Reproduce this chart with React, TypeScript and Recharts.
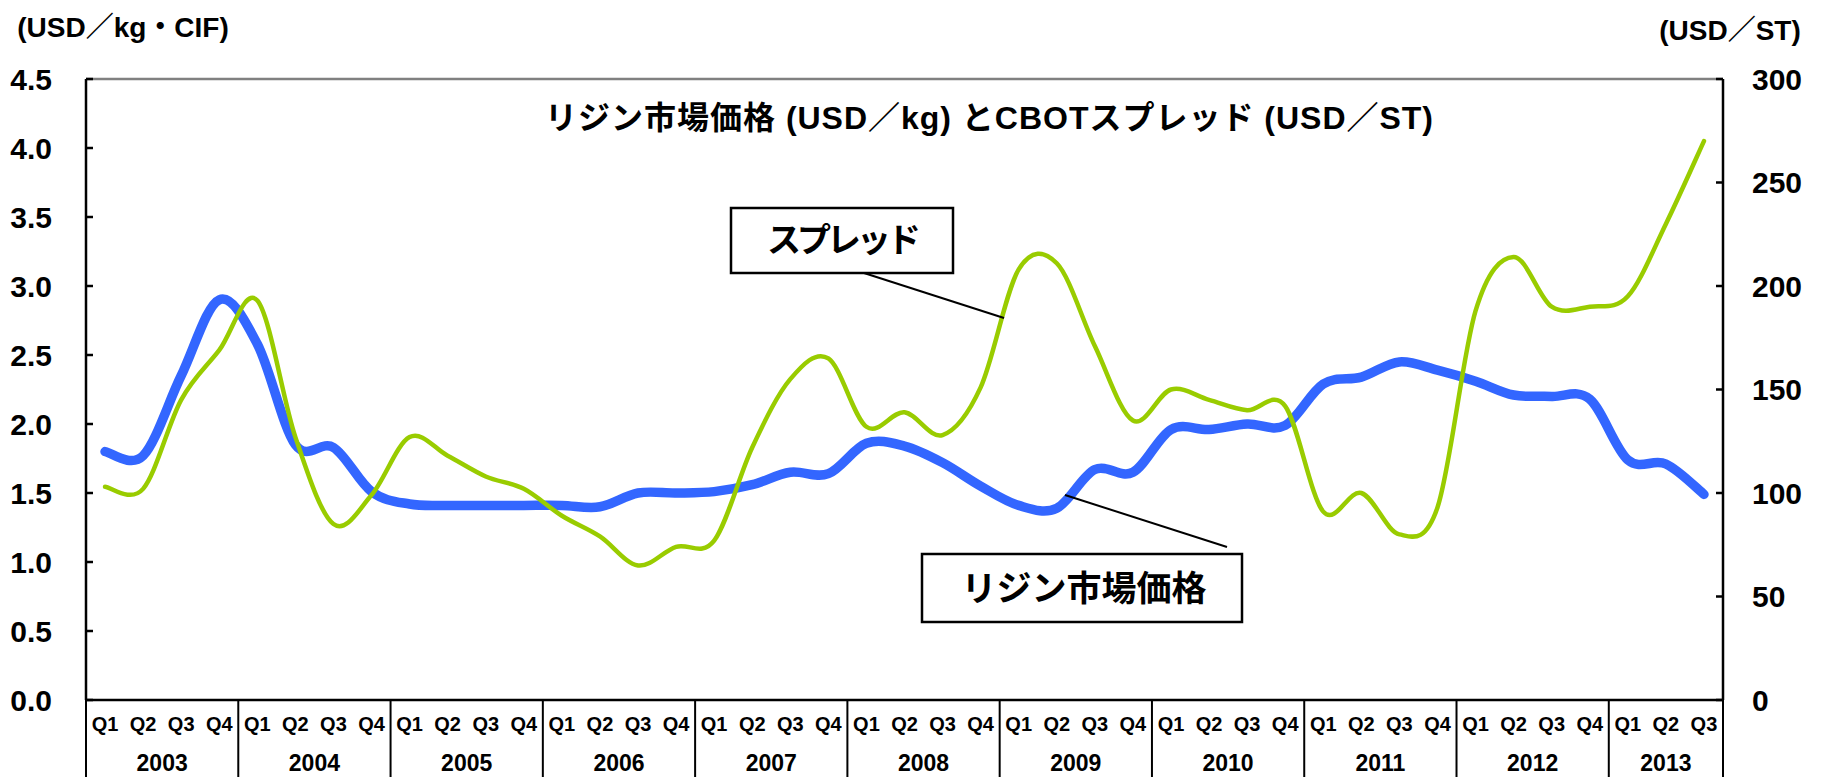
import React from "react";
import { LineChart, Line, XAxis, YAxis, ReferenceLine } from "recharts";

const years = ["2003", "2004", "2005", "2006", "2007", "2008", "2009", "2010", "2011", "2012", "2013"];
const quarters = ["Q1", "Q2", "Q3", "Q4"];

// リジン市場価格 (USD/kg・CIF) 左軸
const lysinePrice = [
  1.8, 1.77, 2.35, 2.9,
  2.58, 1.85, 1.83, 1.51,
  1.42, 1.41, 1.41, 1.41,
  1.41, 1.4, 1.5, 1.5,
  1.51, 1.56, 1.65, 1.64,
  1.86, 1.84, 1.72, 1.55,
  1.41, 1.39, 1.67, 1.65,
  1.96, 1.96, 2.0, 1.99,
  2.29, 2.34, 2.45, 2.39,
  2.31, 2.21, 2.2, 2.18,
  1.74, 1.71, 1.49,
];

// CBOTスプレッド (USD/ST) 右軸
const cbotSpread = [
  103, 102, 145, 169,
  193, 127, 85, 99,
  127, 118, 108, 102,
  89, 79, 65, 74,
  77, 122, 155, 165,
  132, 139, 128, 151,
  208, 211, 171, 135,
  150, 145, 140, 142,
  91, 100, 80, 93,
  188, 214, 190, 190,
  195, 230, 270,
];

const leftTicks = [0, 0.5, 1, 1.5, 2, 2.5, 3, 3.5, 4, 4.5];
const rightTicks = [0, 50, 100, 150, 200, 250, 300];

const periods = years
  .flatMap((year) => quarters.map((q) => ({ year, q })))
  .slice(0, lysinePrice.length);

const data = periods.map((p, i) => ({
  period: `${p.year} ${p.q}`,
  price: lysinePrice[i],
  spread: cbotSpread[i],
}));

const WIDTH = 1824;
const HEIGHT = 777;
const TOP = 79;
const LEFT_W = 86;
const RIGHT_W = 101;
const X_AXIS_H = 77;
const BAND = (WIDTH - LEFT_W - RIGHT_W) / periods.length;

const FONT = "'Liberation Sans', Arial, 'Noto Sans CJK JP', sans-serif";

// Excel風のスムージング (Catmull-Rom)
function excelSmooth(context: any) {
  let pts: number[][] = [];
  return {
    areaStart() {},
    areaEnd() {},
    lineStart() {
      pts = [];
    },
    point(x: number, y: number) {
      pts.push([+x, +y]);
    },
    lineEnd() {
      if (!pts.length) return;
      context.moveTo(pts[0][0], pts[0][1]);
      for (let i = 0; i < pts.length - 1; i++) {
        const p0 = pts[Math.max(i - 1, 0)];
        const p1 = pts[i];
        const p2 = pts[i + 1];
        const p3 = pts[Math.min(i + 2, pts.length - 1)];
        context.bezierCurveTo(
          p1[0] + (p2[0] - p0[0]) / 6,
          p1[1] + (p2[1] - p0[1]) / 6,
          p2[0] - (p3[0] - p1[0]) / 6,
          p2[1] - (p3[1] - p1[1]) / 6,
          p2[0],
          p2[1]
        );
      }
    },
  };
}

function LeftTick({ x, y, payload }: any) {
  return (
    <g>
      <line x1={x} x2={x + 7} y1={y} y2={y} stroke="#000" strokeWidth={2.5} />
      <text x={x - 34} y={y} dy="0.36em" textAnchor="end" fontSize={30} fontWeight={700} fontFamily={FONT} fill="#000">
        {Number(payload.value).toFixed(1)}
      </text>
    </g>
  );
}

function RightTick({ x, y, payload }: any) {
  return (
    <g>
      <line x1={x - 7} x2={x} y1={y} y2={y} stroke="#000" strokeWidth={2.5} />
      <text x={x + 29} y={y} dy="0.36em" textAnchor="start" fontSize={30} fontWeight={700} fontFamily={FONT} fill="#000">
        {payload.value}
      </text>
    </g>
  );
}

function PeriodTick({ x, y, payload, index }: any) {
  const i = payload?.index ?? index;
  const p = periods[i];
  if (!p) return null;
  const left = x - BAND / 2;
  const isFirst = p.q === quarters[0];
  const count = periods.filter((o) => o.year === p.year).length;
  return (
    <g>
      <text x={x} y={y + 24} dy="0.36em" textAnchor="middle" fontSize={20} fontWeight={700} fontFamily={FONT} fill="#000">
        {p.q}
      </text>
      {isFirst && <line x1={left} x2={left} y1={y} y2={y + X_AXIS_H} stroke="#000" strokeWidth={2} />}
      {isFirst && (
        <text x={left + (BAND * count) / 2} y={y + 63} dy="0.36em" textAnchor="middle" fontSize={23} fontWeight={700} fontFamily={FONT} fill="#000">
          {p.year}
        </text>
      )}
      {i === periods.length - 1 && (
        <line x1={x + BAND / 2} x2={x + BAND / 2} y1={y} y2={y + X_AXIS_H} stroke="#000" strokeWidth={2} />
      )}
    </g>
  );
}

export default function App() {
  return (
    <div style={{ position: "absolute", left: 0, top: 0, width: WIDTH, height: HEIGHT, background: "#fff" }}>
      <LineChart width={WIDTH} height={HEIGHT} data={data} margin={{ top: TOP, right: 0, bottom: 0, left: 0 }}>
        <XAxis
          dataKey="period"
          interval={0}
          height={X_AXIS_H}
          padding={{ left: BAND / 2, right: BAND / 2 }}
          tickLine={false}
          tickSize={0}
          tickMargin={0}
          axisLine={{ stroke: "#000", strokeWidth: 2.5 }}
          tick={<PeriodTick />}
        />
        <YAxis
          yAxisId="left"
          orientation="left"
          width={LEFT_W}
          domain={[0, 4.5]}
          ticks={leftTicks}
          interval={0}
          tickLine={false}
          tickSize={0}
          tickMargin={0}
          axisLine={{ stroke: "#000", strokeWidth: 2.5 }}
          tick={<LeftTick />}
        />
        <YAxis
          yAxisId="right"
          orientation="right"
          width={RIGHT_W}
          domain={[0, 300]}
          ticks={rightTicks}
          interval={0}
          tickLine={false}
          tickSize={0}
          tickMargin={0}
          axisLine={{ stroke: "#000", strokeWidth: 2.5 }}
          tick={<RightTick />}
        />
        <ReferenceLine yAxisId="left" y={4.5} stroke="#808080" strokeWidth={2.5} />
        <Line
          yAxisId="left"
          type={excelSmooth as any}
          dataKey="price"
          stroke="#3366FF"
          strokeWidth={9.5}
          strokeLinecap="round"
          strokeLinejoin="round"
          dot={false}
          activeDot={false}
          isAnimationActive={false}
        />
        <Line
          yAxisId="right"
          type={excelSmooth as any}
          dataKey="spread"
          stroke="#99CC00"
          strokeWidth={4.5}
          strokeLinecap="round"
          strokeLinejoin="round"
          dot={false}
          activeDot={false}
          isAnimationActive={false}
        />
      </LineChart>

      <svg
        width={WIDTH}
        height={HEIGHT}
        style={{ position: "absolute", left: 0, top: 0, pointerEvents: "none" }}
        fontFamily={FONT}
      >
        <text x={123} y={27} dy="0.36em" textAnchor="middle" fontSize={28} fontWeight={700}>
          (USD／kg・CIF)
        </text>
        <text x={1730} y={30} dy="0.36em" textAnchor="middle" fontSize={28} fontWeight={700}>
          (USD／ST)
        </text>
        <text x={545} y={117} dy="0.36em" fontSize={32} fontWeight={700} textLength={888} lengthAdjust="spacing">
          リジン市場価格 (USD／kg) とCBOTスプレッド (USD／ST)
        </text>

        <line x1={864} y1={273} x2={1004} y2={318} stroke="#000" strokeWidth={2} />
        <rect x={731} y={208} width={222} height={65} fill="#fff" stroke="#000" strokeWidth={2.5} />
        <text x={842} y={240} dy="0.36em" textAnchor="middle" fontSize={34} fontWeight={700} letterSpacing={-4}>
          スプレッド
        </text>

        <line x1={1227} y1={547} x2={1065} y2={495} stroke="#000" strokeWidth={2} />
        <rect x={922} y={554} width={320} height={68} fill="#fff" stroke="#000" strokeWidth={2.5} />
        <text x={1084} y={588} dy="0.36em" textAnchor="middle" fontSize={35} fontWeight={700}>
          リジン市場価格
        </text>
      </svg>
    </div>
  );
}
